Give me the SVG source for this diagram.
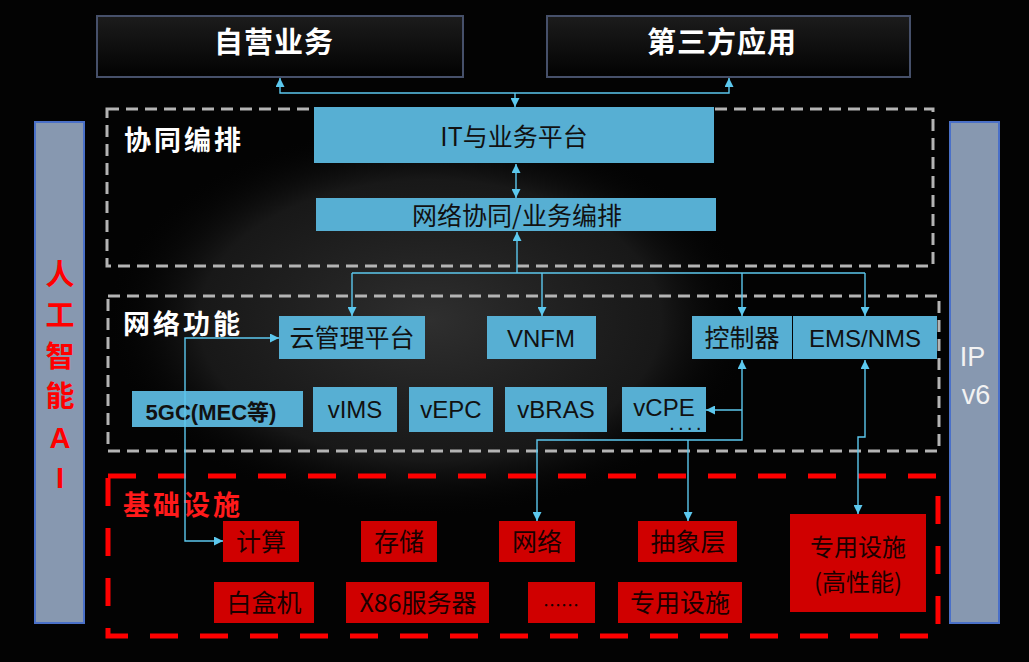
<svg xmlns="http://www.w3.org/2000/svg" width="1029" height="662" viewBox="0 0 1029 662">
<defs>
<style>
.cjk{font-family:"Noto Sans CJK SC","Liberation Sans",sans-serif}
.lat{font-family:"Liberation Sans","Noto Sans CJK SC",sans-serif}
.top{fill:url(#topg);stroke:#46506a;stroke-width:2}
.toptxt{fill:#fff;font-size:29px;font-weight:bold;text-anchor:middle;letter-spacing:1px}
.grp{fill:none;stroke:#b4b4b4;stroke-width:3;stroke-dasharray:12 7}
.red{fill:none;stroke:#ff0000;stroke-width:5;stroke-dasharray:28 22}
.blue{fill:#57afd3}
.btxt{fill:#111;font-size:24px;text-anchor:middle}
.rbox{fill:#d00000}
.rtxt{fill:#1a0000;font-size:25px;text-anchor:middle}
.lbl{fill:#fff;font-size:27px;font-weight:bold;letter-spacing:3px}
.bar{fill:#8798b0;stroke:#4a70c8;stroke-width:2}
.ai{fill:#ff0000;font-size:29px;font-weight:bold;text-anchor:middle}
.conn{fill:none;stroke:#5cc8ee;stroke-width:1.4}
</style>
<linearGradient id="topg" x1="0" y1="0" x2="0" y2="1">
<stop offset="0" stop-color="#1c1c1c"/>
<stop offset="1" stop-color="#020202"/>
</linearGradient>
<radialGradient id="brain" cx="0.5" cy="0.5" r="0.5">
<stop offset="0" stop-color="#3a3a3a" stop-opacity="0.8"/>
<stop offset="0.7" stop-color="#262626" stop-opacity="0.6"/>
<stop offset="1" stop-color="#000" stop-opacity="0"/>
</radialGradient>
<marker id="ar" viewBox="0 0 10 10" refX="10" refY="5" markerWidth="9" markerHeight="9" markerUnits="userSpaceOnUse" orient="auto-start-reverse">
<path d="M0,0 L10,5 L0,10 z" fill="#5cc8ee"/>
</marker>
</defs>

<rect x="0" y="0" width="1029" height="662" fill="#030303"/>
<ellipse cx="430" cy="320" rx="330" ry="200" fill="url(#brain)"/>

<!-- containers -->
<g id="group-orchestration">
<rect class="grp" x="107" y="109" width="826" height="157"/>
<text class="cjk lbl" x="124" y="150">协同编排</text>
</g>
<g id="group-network">
<rect class="grp" x="108" y="296" width="831" height="155"/>
<text class="cjk lbl" x="123" y="334">网络功能</text>
</g>
<g id="group-infra">
<rect class="red" x="108" y="476" width="830" height="160"/>
<text class="cjk lbl" x="123" y="515" style="fill:#ff1a1a">基础设施</text>
</g>

<!-- side bars -->
<g id="ai-bar">
<rect class="bar" x="35" y="122" width="49" height="501"/>
<text class="cjk ai" x="60" y="285">人</text>
<text class="cjk ai" x="60" y="326">工</text>
<text class="cjk ai" x="60" y="367">智</text>
<text class="cjk ai" x="60" y="407">能</text>
<text class="lat ai" x="60" y="448">A</text>
<text class="lat ai" x="60" y="488">I</text>
</g>
<g id="ipv6-bar">
<rect class="bar" x="950" y="122" width="49" height="501"/>
<text class="lat" fill="#f2f2f2" font-size="27" text-anchor="middle">
<tspan x="976" y="366">IP</tspan>
<tspan x="976" y="404">v6</tspan>
</text>
</g>

<!-- top -->
<g id="self-business">
<rect class="top" x="97" y="16" width="366" height="61"/>
<text class="cjk toptxt" x="274" y="53">自营业务</text>
</g>
<g id="third-party">
<rect class="top" x="547" y="16" width="363" height="61"/>
<text class="cjk toptxt" x="722" y="53">第三方应用</text>
</g>

<!-- orchestration -->
<g id="it-platform">
<rect class="blue" x="314" y="107" width="400" height="56"/>
<text class="cjk btxt" x="514" y="146" style="font-size:25px">IT与业务平台</text>
</g>
<g id="net-orch">
<rect class="blue" x="316" y="198" width="400" height="33"/>
<text class="cjk btxt" x="517" y="225" style="font-size:25px">网络协同/业务编排</text>
</g>

<!-- network functions -->
<g id="cloud-mgmt">
<rect class="blue" x="279" y="316" width="146" height="43"/>
<text class="cjk btxt" x="352" y="347" style="font-size:25px">云管理平台</text>
</g>
<g id="vnfm">
<rect class="blue" x="487" y="316" width="109" height="43"/>
<text class="lat btxt" x="541" y="347">VNFM</text>
</g>
<g id="controller">
<rect class="blue" x="692" y="316" width="100" height="43"/>
<text class="cjk btxt" x="742" y="347" style="font-size:25px">控制器</text>
</g>
<g id="ems-nms">
<rect class="blue" x="793" y="316" width="144" height="43"/>
<text class="lat btxt" x="865" y="347">EMS/NMS</text>
</g>
<g id="fivegc">
<rect class="blue" x="132" y="391" width="171" height="36"/>
<text class="lat btxt" x="211" y="420" style="font-size:22px;font-weight:bold">5GC(MEC等)</text>
</g>
<g id="vims">
<rect class="blue" x="313" y="387" width="84" height="45"/>
<text class="lat btxt" x="355" y="418">vIMS</text>
</g>
<g id="vepc">
<rect class="blue" x="409" y="387" width="84" height="45"/>
<text class="lat btxt" x="451" y="418">vEPC</text>
</g>
<g id="vbras">
<rect class="blue" x="505" y="387" width="102" height="45"/>
<text class="lat btxt" x="556" y="418">vBRAS</text>
</g>
<g id="vcpe">
<rect class="blue" x="622" y="387" width="84" height="45"/>
<text class="lat btxt" x="664" y="416">vCPE</text>
<text class="lat" x="670" y="430" fill="#111" font-size="14" font-weight="bold" letter-spacing="5">....</text>
</g>

<!-- infrastructure -->
<g id="compute">
<rect class="rbox" x="223" y="521" width="76" height="41"/>
<text class="cjk rtxt" x="261" y="551">计算</text>
</g>
<g id="storage">
<rect class="rbox" x="361" y="521" width="76" height="41"/>
<text class="cjk rtxt" x="399" y="551">存储</text>
</g>
<g id="network">
<rect class="rbox" x="499" y="521" width="76" height="41"/>
<text class="cjk rtxt" x="537" y="551">网络</text>
</g>
<g id="abstraction">
<rect class="rbox" x="638" y="521" width="99" height="41"/>
<text class="cjk rtxt" x="688" y="551">抽象层</text>
</g>
<g id="whitebox">
<rect class="rbox" x="214" y="582" width="100" height="41"/>
<text class="cjk rtxt" x="264" y="612">白盒机</text>
</g>
<g id="x86">
<rect class="rbox" x="346" y="582" width="143" height="41"/>
<text class="cjk rtxt" x="418" y="612">X86服务器</text>
</g>
<g id="etc">
<rect class="rbox" x="528" y="582" width="67" height="41"/>
<text class="cjk rtxt" x="561" y="612" style="font-size:18px">……</text>
</g>
<g id="dedicated">
<rect class="rbox" x="618" y="582" width="124" height="41"/>
<text class="cjk rtxt" x="680" y="612">专用设施</text>
</g>
<g id="dedicated-hp">
<rect class="rbox" x="790" y="514" width="136" height="98"/>
<text class="cjk rtxt" x="858" y="556" style="font-size:24px">专用设施</text>
<text class="cjk rtxt" x="858" y="591" style="font-size:24px">(高性能)</text>
</g>

<!-- connectors -->
<g id="connectors">
<path class="conn" d="M515,93 H280 V78" marker-end="url(#ar)"/>
<path class="conn" d="M515,93 H729 V78" marker-end="url(#ar)"/>
<path class="conn" d="M515,93 V107" marker-end="url(#ar)"/>
<path class="conn" d="M516,164 V198" marker-start="url(#ar)" marker-end="url(#ar)"/>
<path class="conn" d="M517,273 V232" marker-end="url(#ar)"/>
<path class="conn" d="M352,273 H865"/>
<path class="conn" d="M352,273 V316" marker-end="url(#ar)"/>
<path class="conn" d="M542,273 V316" marker-end="url(#ar)"/>
<path class="conn" d="M742,273 V316" marker-end="url(#ar)"/>
<path class="conn" d="M865,273 V316" marker-end="url(#ar)"/>
<path class="conn" d="M279,338 H185 V541 H223" marker-start="url(#ar)" marker-end="url(#ar)"/>
<path class="conn" d="M742,360 V440 H537 V521" marker-start="url(#ar)" marker-end="url(#ar)"/>
<path class="conn" d="M742,410 H706" marker-end="url(#ar)"/>
<path class="conn" d="M688,440 V521" marker-end="url(#ar)"/>
<path class="conn" d="M865,360 V437 H858 V514" marker-start="url(#ar)" marker-end="url(#ar)"/>
</g>
</svg>
